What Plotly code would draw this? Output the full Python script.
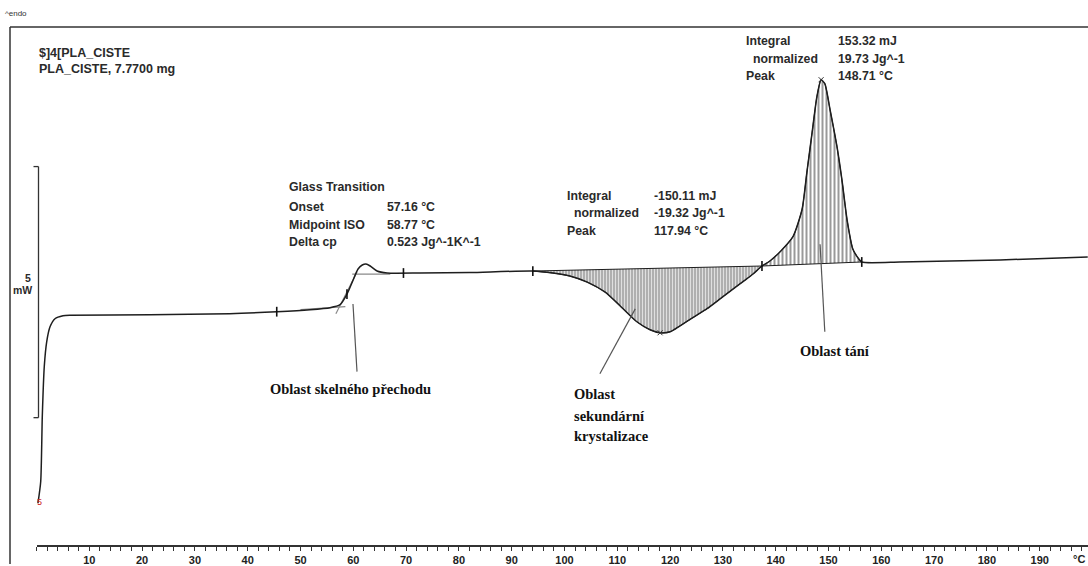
import numpy as np
import plotly.graph_objects as go

W, H = 1088, 566

# ---- measured DSC curve (temperature in °C, heat flow in mW, endo up) ----
temp_C = [0.28, 0.80, 1.10, 1.48, 1.93, 2.56, 3.50, 5.02, 6.3, 21.5, 36.6, 45.5,
          51.8, 55.6, 57.5, 58.8, 59.8, 60.9, 61.7, 62.4, 63.2, 64.5, 66.4, 72.6,
          82.1, 94.0, 97.8, 101.0, 104.3, 107.7, 110.5, 113.7, 116.2, 118.1, 120.0,
          121.9, 124.3, 127.0, 129.4, 131.9, 134.2, 135.7, 137.4, 138.9, 140.8,
          143.3, 145.0, 145.9, 146.9, 147.8, 148.6, 149.3, 150.3, 151.6, 152.6,
          153.5, 154.6, 155.6, 156.3, 163.5, 173.0, 182.5, 199.1]
heat_flow_mW = [-2.08, -1.65, -0.34, 0.65, 1.13, 1.43, 1.59, 1.65, 1.66, 1.67, 1.69, 1.73,
                1.77, 1.81, 1.87, 2.08, 2.32, 2.58, 2.66, 2.68, 2.64, 2.54, 2.50, 2.50,
                2.51, 2.54, 2.50, 2.44, 2.32, 2.12, 1.85, 1.53, 1.37, 1.31, 1.33,
                1.45, 1.61, 1.79, 1.98, 2.18, 2.36, 2.48, 2.64, 2.74, 2.92,
                3.23, 3.77, 4.50, 5.30, 6.01, 6.35, 6.27, 5.75, 5.02, 4.31,
                3.57, 2.98, 2.80, 2.72, 2.72, 2.74, 2.76, 2.82]

# integration limits / baselines
cryst_limits_C = [94.0, 137.4]
cryst_base_mW = [2.54, 2.64]
melt_limits_C = [137.4, 156.3]
melt_base_mW = [2.64, 2.72]

# glass transition construction lines
tg_lower_C = [50.0, 58.5]
tg_lower_mW = [1.77, 1.83]
tg_tangent_C = [56.7, 60.7]
tg_tangent_mW = [1.69, 2.52]
tg_upper_C = [59.8, 67.0]
tg_upper_mW = [2.48, 2.48]

event_marks_C = [45.5, 58.8, 69.5, 94.0, 137.4, 156.3]
peak_marks_C = [118.1, 148.6]

tick_vals = list(range(10, 200, 10))
tick_text = [str(v) for v in tick_vals]

# scale bar: 5 mW
scale_bar_mW = [-0.38, 4.62]

# ---- layout mapping ----
px_per_C = 5.28
x0_px = 36.5
x_range = [0, (W - x0_px) / px_per_C]
y_range = [-3.294, 7.937]

T = np.array(temp_C)
Q = np.array(heat_flow_mW)

def px(x):
    return x / W

def py(y):
    return 1 - y / H

fig = go.Figure()

curve_color = "#1e1e1e"
SHAPE = "spline"
SMOOTH = 0.6

# crystallization hatched area
m = (T >= cryst_limits_C[0]) & (T <= cryst_limits_C[1])
fig.add_trace(go.Scatter(x=cryst_limits_C, y=cryst_base_mW, mode="lines",
                         line=dict(color=curve_color, width=1), hoverinfo="skip"))
fig.add_trace(go.Scatter(x=T[m], y=Q[m], mode="lines", fill="tonexty",
                         line=dict(color=curve_color, width=1, shape=SHAPE, smoothing=SMOOTH),
                         fillcolor="white",
                         fillpattern=dict(shape="|", size=3, solidity=0.5,
                                          fgcolor="#000", fillmode="overlay"),
                         hoverinfo="skip"))
# melting hatched area
m2 = (T >= melt_limits_C[0]) & (T <= melt_limits_C[1])
fig.add_trace(go.Scatter(x=melt_limits_C, y=melt_base_mW, mode="lines",
                         line=dict(color=curve_color, width=1), hoverinfo="skip"))
fig.add_trace(go.Scatter(x=T[m2], y=Q[m2], mode="lines", fill="tonexty",
                         line=dict(color=curve_color, width=1, shape=SHAPE, smoothing=SMOOTH),
                         fillcolor="white",
                         fillpattern=dict(shape="|", size=4, solidity=0.4,
                                          fgcolor="#000", fillmode="overlay"),
                         hoverinfo="skip"))

# glass transition construction lines
for xs, ys in [(tg_lower_C, tg_lower_mW), (tg_tangent_C, tg_tangent_mW), (tg_upper_C, tg_upper_mW)]:
    fig.add_trace(go.Scatter(x=xs, y=ys, mode="lines",
                             line=dict(color="#8a8a8a", width=1.2), hoverinfo="skip"))

# main curve
fig.add_trace(go.Scatter(x=T, y=Q, mode="lines",
                         line=dict(color=curve_color, width=1.5, shape=SHAPE, smoothing=SMOOTH),
                         hoverinfo="skip"))

# event markers
fig.add_trace(go.Scatter(x=event_marks_C, y=np.interp(event_marks_C, T, Q), mode="markers",
                         marker=dict(symbol="line-ns-open", size=7, color="#111",
                                     line=dict(color="#111", width=1.6)), hoverinfo="skip"))
fig.add_trace(go.Scatter(x=peak_marks_C, y=np.interp(peak_marks_C, T, Q), mode="markers",
                         marker=dict(symbol="x-thin-open", size=5, color="#333",
                                     line=dict(color="#333", width=1)), hoverinfo="skip"))

# ---- shapes: frame, scale bar, leader lines ----
shapes = []
frame = dict(color="#333333", width=1.5)
shapes.append(dict(type="line", xref="paper", yref="paper", x0=px(10), x1=1, y0=py(27), y1=py(27), line=frame))
shapes.append(dict(type="line", xref="paper", yref="paper", x0=px(10), x1=px(10), y0=py(27), y1=0, line=frame))
bar = dict(color="#333333", width=1.3)
shapes.append(dict(type="line", xref="paper", yref="y", x0=px(38.5), x1=px(38.5),
                   y0=scale_bar_mW[0], y1=scale_bar_mW[1], line=bar))
for yv in scale_bar_mW:
    shapes.append(dict(type="line", xref="paper", yref="y", x0=px(33.5), x1=px(38.5),
                       y0=yv, y1=yv, line=bar))
leader = dict(color="#555555", width=1.2)
leaders = [((59.94, 1.885), (60.7, 0.536)),
           ((113.4, 1.786), (106.7, 0.496)),
           ((148.4, 3.075), (149.3, 1.33))]
for (xa, ya), (xb, yb) in leaders:
    shapes.append(dict(type="line", xref="x", yref="y", x0=xa, y0=ya, x1=xb, y1=yb, line=leader))

# ---- text ----
ann = []
sans = "Liberation Sans, Arial, sans-serif"
serif = "Liberation Serif, Times New Roman, serif"

def txt(x, y, s, size=12.3, color="#2a2a2a", family=sans, anchor="left", bold=True):
    if bold:
        s = "<b>" + s + "</b>"
    ann.append(dict(x=px(x), y=py(y), xref="paper", yref="paper", text=s, showarrow=False,
                    xanchor=anchor, yanchor="middle",
                    font=dict(size=size, color=color, family=family)))

txt(3, 14, "^endo", size=8, color="#333", bold=False)
txt(37, 53, "$]4[PLA_CISTE", size=12.5)
txt(37, 69, "PLA_CISTE, 7.7700 mg", size=12.5)

txt(287, 188, "Glass Transition")
for yv, a, b in [(208, "Onset", "57.16 °C"), (226, "Midpoint ISO", "58.77 °C"),
                 (243, "Delta cp", "0.523 Jg^-1K^-1")]:
    txt(287, yv, a)
    txt(385, yv, b)

txt(565, 197, "Integral"); txt(652, 197, "-150.11 mJ")
txt(572, 214, "normalized"); txt(652, 214, "-19.32 Jg^-1")
txt(565, 232, "Peak"); txt(652, 232, "117.94 °C")

txt(744, 41, "Integral"); txt(836, 41, "153.32 mJ")
txt(751, 59, "normalized"); txt(836, 59, "19.73 Jg^-1")
txt(744, 76, "Peak"); txt(836, 76, "148.71 °C")

txt(33, 279, "5", size=10.5, anchor="right")
txt(34, 291, "mW", size=10.5, anchor="right")
txt(35, 504, "5", size=9, color="#cc2222", bold=False)

txt(268, 390, "Oblast skelného přechodu", size=14.5, family=serif, color="#111")
txt(572, 395, "Oblast", size=14.5, family=serif, color="#111")
txt(572, 417, "sekundární", size=14.5, family=serif, color="#111")
txt(572, 438, "krystalizace", size=14.5, family=serif, color="#111")
txt(798, 352, "Oblast tání", size=14.5, family=serif, color="#111")

txt(1087, 561, "°C", size=11, color="#222", anchor="right")

fig.update_layout(
    width=W, height=H,
    margin=dict(l=0, r=0, t=0, b=0),
    paper_bgcolor="white", plot_bgcolor="white",
    showlegend=False,
    shapes=shapes, annotations=ann,
    xaxis=dict(domain=[x0_px / W, 1], range=x_range, anchor="free", position=(H - 548) / H,
               showgrid=False, zeroline=False, showline=True, linecolor="#333", linewidth=1.6,
               tickmode="array", tickvals=tick_vals, ticktext=tick_text,
               ticks="outside", ticklen=4, tickwidth=1.2, tickcolor="#333",
               tickfont=dict(size=11, color="#222", family="Liberation Sans, Arial, sans-serif", weight="bold"),
               minor=dict(tickmode="linear", tick0=0, dtick=2, ticks="outside", ticklen=4,
                          tickwidth=1.2, tickcolor="#333")),
    yaxis=dict(domain=[0, 1], range=y_range, visible=False, showgrid=False, zeroline=False),
)

fig.write_html("out.html")
